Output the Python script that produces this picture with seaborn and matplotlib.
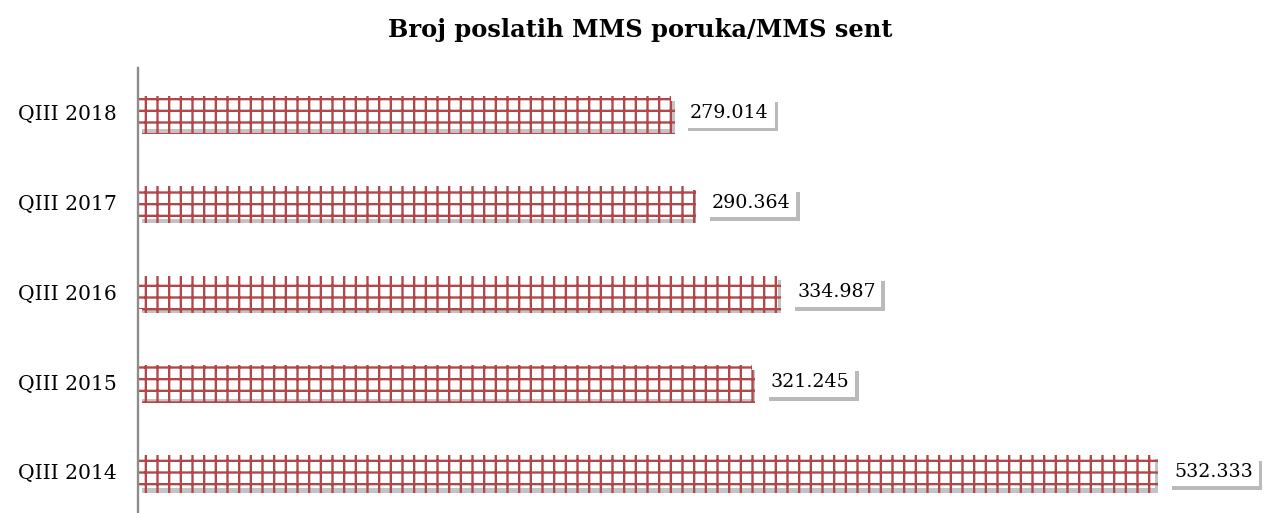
import matplotlib
matplotlib.use("Agg")
import matplotlib.pyplot as plt
import matplotlib.patheffects as pe
import pandas as pd
import seaborn as sns

# data
periods = ["QIII 2018", "QIII 2017", "QIII 2016", "QIII 2015", "QIII 2014"]
mms_sent = [279.014, 290.364, 334.987, 321.245, 532.333]
value_labels = ["279.014", "290.364", "334.987", "321.245", "532.333"]

title = "Broj poslatih MMS poruka/MMS sent"
hatch_red = "#b2474a"

DPI = 140
sns.set_theme(style="white")
plt.rcParams["font.family"] = ["DejaVu Serif"]
plt.rcParams["hatch.linewidth"] = 1.2
plt.rcParams["text.color"] = "black"
plt.rcParams["ytick.color"] = "black"

df = pd.DataFrame({"period": periods, "value": mms_sent})

fig = plt.figure(figsize=(1272 / DPI, 513 / DPI), dpi=DPI)
ax = fig.add_axes([138 / 1272, 0.0, 1108 / 1272, (513 - 68) / 513])

sns.barplot(data=df, x="value", y="period", orient="h", ax=ax,
            width=0.37, color="white", saturation=1)

shadow = [pe.SimplePatchShadow(offset=(1.8, -2.2), shadow_rgbFace="#888888", alpha=0.5),
          pe.Normal()]
for bar in ax.patches:
    bar.set_facecolor("white")
    bar.set_edgecolor(hatch_red)
    bar.set_linewidth(0)
    bar.set_hatch("++")
    bar.set_path_effects(shadow)

for i, (v, lab) in enumerate(zip(mms_sent, value_labels)):
    t = ax.text(v + 10, i, lab, va="center", ha="left", fontsize=9.8,
                color="black",
                bbox=dict(boxstyle="square,pad=0.3", facecolor="white",
                          edgecolor="none"))
    t.get_bbox_patch().set_path_effects(
        [pe.SimplePatchShadow(offset=(2.0, -2.0), shadow_rgbFace="#777777", alpha=0.5),
         pe.Normal()])

ax.set_xlim(0, 580)
ax.set_ylim(4.46, -0.5)
ax.set_xlabel("")
ax.set_ylabel("")
ax.set_xticks([])
ax.tick_params(axis="y", length=0, pad=11, labelsize=10.4)
for s in ["top", "right", "bottom"]:
    ax.spines[s].set_visible(False)
ax.spines["left"].set_color("#8c8c8c")
ax.spines["left"].set_linewidth(1.2)

fig.text(0.503, 1 - 30 / 513, title, ha="center", va="center",
         fontsize=12.4, fontweight="bold", color="black")

fig.savefig("out.png", dpi=DPI)
